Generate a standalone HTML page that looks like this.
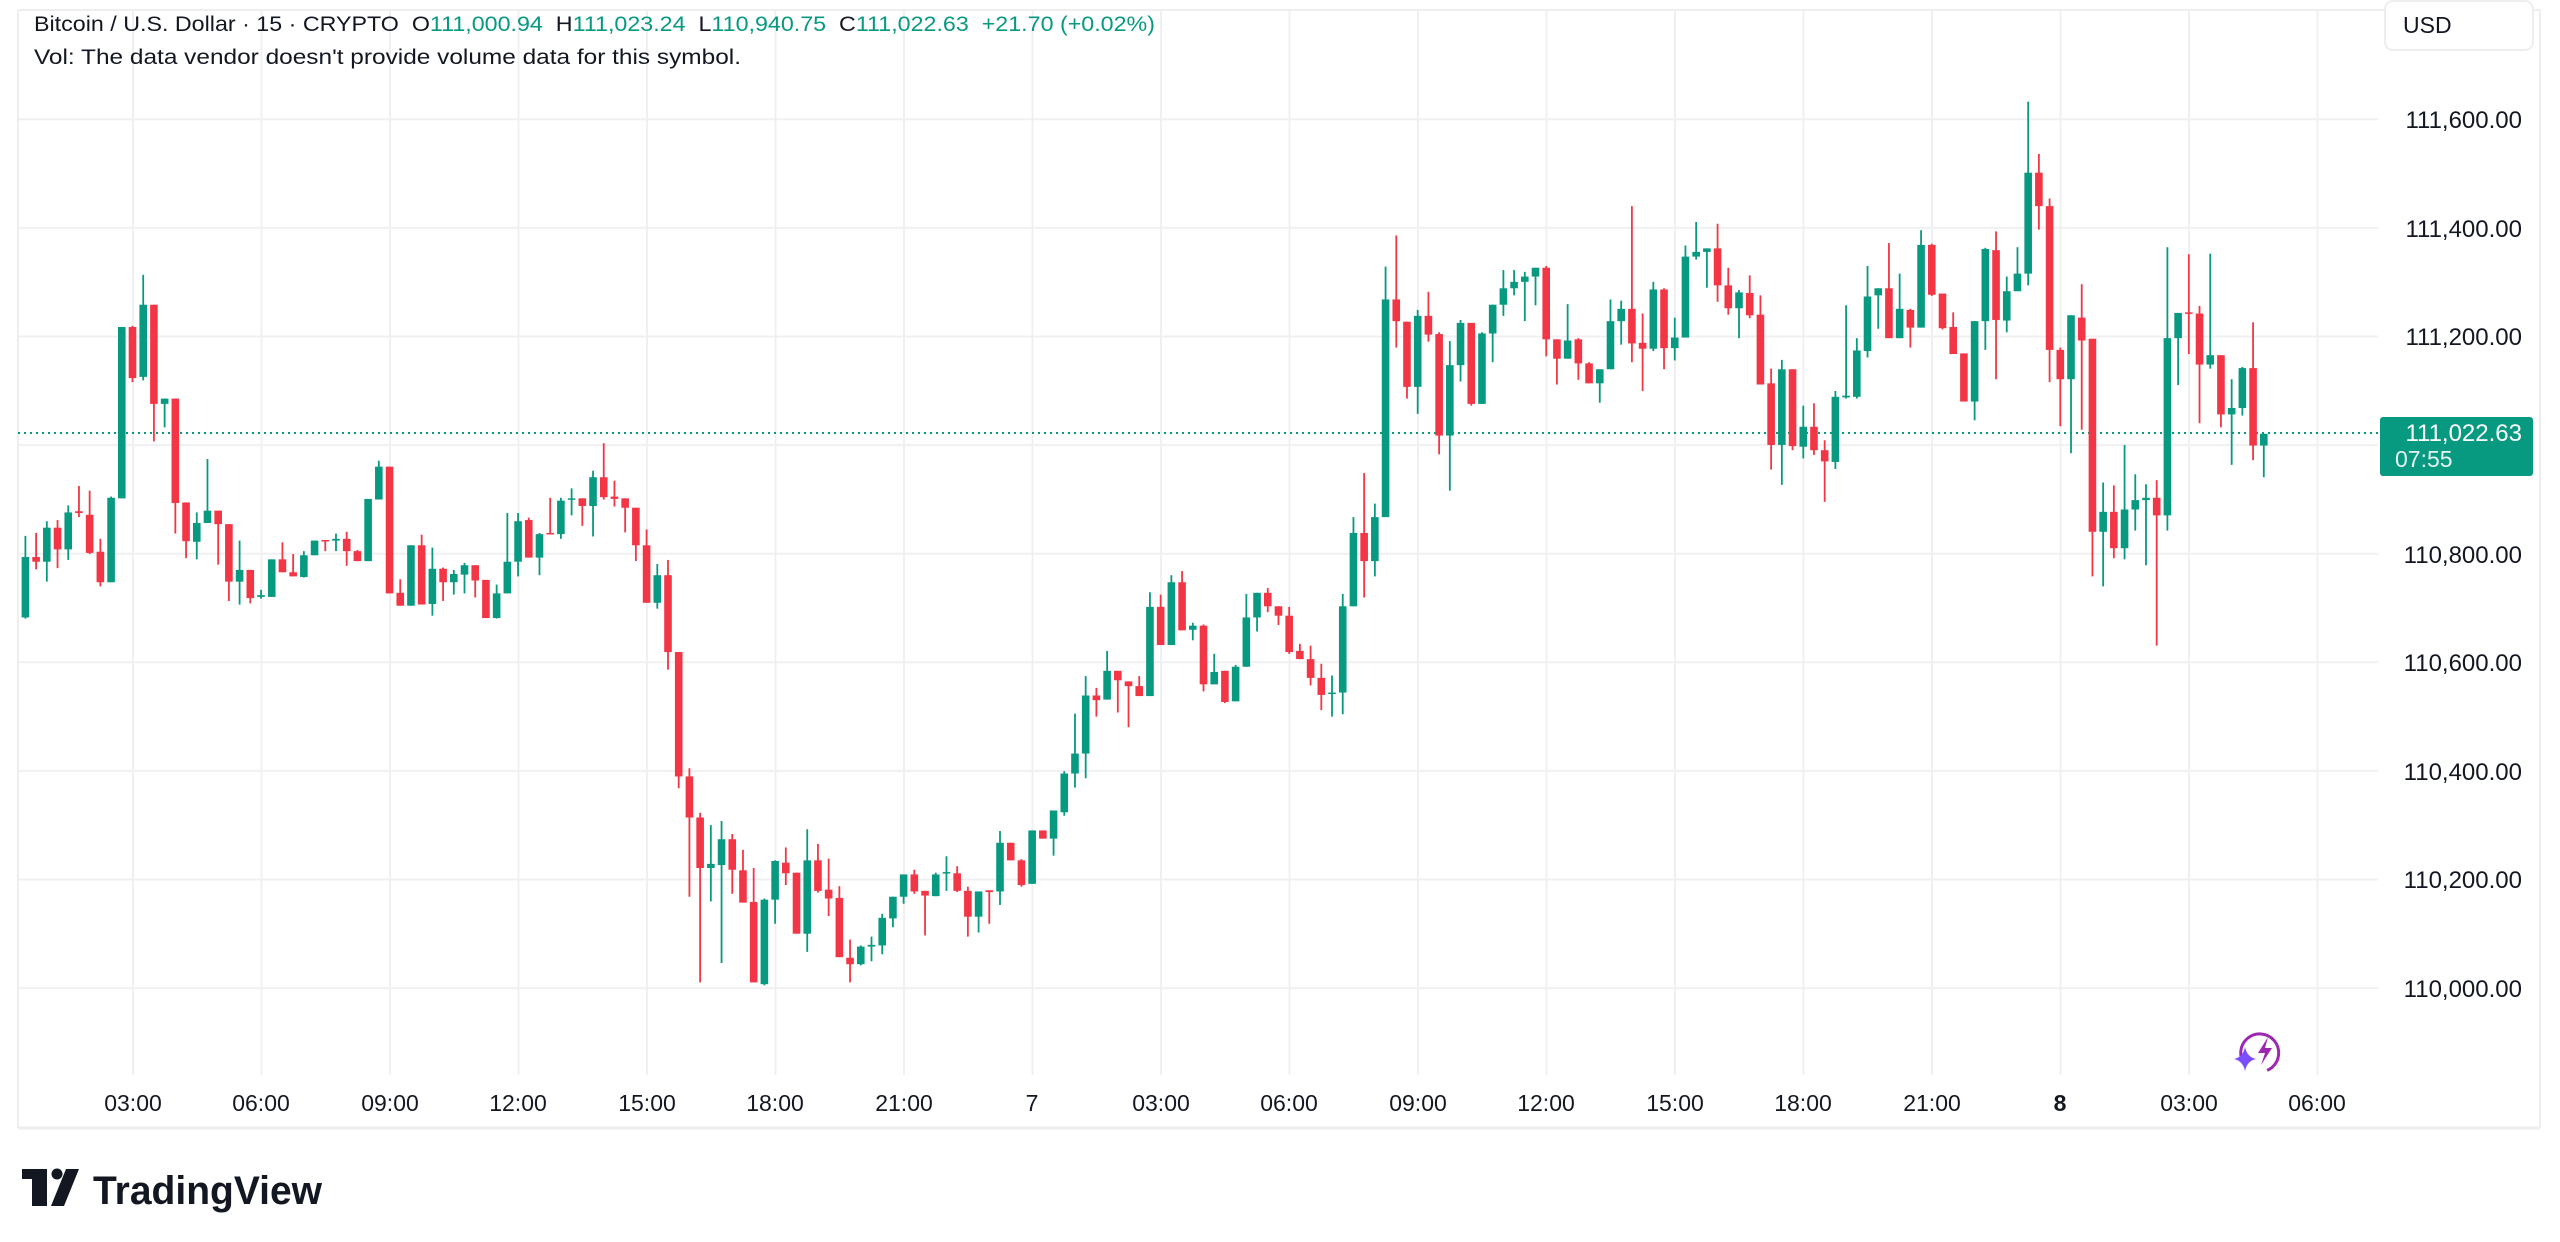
<!DOCTYPE html>
<html><head><meta charset="utf-8">
<style>
html,body{margin:0;padding:0;background:#fff;}
body{width:2560px;height:1242px;overflow:hidden;font-family:"Liberation Sans",sans-serif;}
svg{display:block}
</style></head>
<body>
<svg id="c" width="2560" height="1242" viewBox="0 0 2560 1242" xmlns="http://www.w3.org/2000/svg" font-family="Liberation Sans, sans-serif">
<rect width="2560" height="1242" fill="#fff"/>
<g id="grid" stroke="#f0f0f2" stroke-width="2"></g>
<!-- frame -->
<line x1="18" y1="10" x2="2540" y2="10" stroke="#eeeeee" stroke-width="2"/>
<line x1="18" y1="10" x2="18" y2="1128" stroke="#eeeeee" stroke-width="2"/>
<line x1="2540" y1="10" x2="2540" y2="1128" stroke="#eeeeee" stroke-width="2"/>
<line x1="18" y1="1128" x2="2540" y2="1128" stroke="#eeeeee" stroke-width="3"/>
<line x1="18" y1="433" x2="2378" y2="433" stroke="#089981" stroke-width="2" stroke-dasharray="2,4"/>
<g id="candles"></g>
<!-- header -->
<text x="34" y="31" font-size="21" fill="#131722" textLength="1121" lengthAdjust="spacingAndGlyphs">Bitcoin / U.S. Dollar · 15 · CRYPTO&#160; O<tspan fill="#089981">111,000.94</tspan>&#160; H<tspan fill="#089981">111,023.24</tspan>&#160; L<tspan fill="#089981">110,940.75</tspan>&#160; C<tspan fill="#089981">111,022.63</tspan>&#160; <tspan fill="#089981">+21.70 (+0.02%)</tspan></text>
<text x="34" y="64" font-size="21" fill="#131722" textLength="707" lengthAdjust="spacingAndGlyphs">Vol: The data vendor doesn't provide volume data for this symbol.</text>
<!-- USD box -->
<rect x="2385" y="1" width="148" height="49" rx="8" fill="#fff" stroke="#eeeeee" stroke-width="2"/>
<text x="2403" y="33" font-size="23" fill="#131722">USD</text>
<g id="plabels" font-size="24" fill="#131722" text-anchor="end">
<text x="2522" y="128">111,600.00</text>
<text x="2522" y="237">111,400.00</text>
<text x="2522" y="345">111,200.00</text>
<text x="2522" y="671">110,600.00</text>
<text x="2522" y="563">110,800.00</text>
<text x="2522" y="780">110,400.00</text>
<text x="2522" y="888">110,200.00</text>
<text x="2522" y="997">110,000.00</text>
</g>
<rect x="2380" y="417" width="153" height="59" rx="3" fill="#089981"/>
<text x="2522" y="441" font-size="24" fill="#fff" text-anchor="end">111,022.63</text>
<text x="2395" y="467" font-size="23" fill="#e6f5f2">07:55</text>
<g font-size="23" fill="#131722" text-anchor="middle">
<text x="133" y="1111">03:00</text>
<text x="261" y="1111">06:00</text>
<text x="390" y="1111">09:00</text>
<text x="518" y="1111">12:00</text>
<text x="647" y="1111">15:00</text>
<text x="775" y="1111">18:00</text>
<text x="904" y="1111">21:00</text>
<text x="1032" y="1111">7</text>
<text x="1161" y="1111">03:00</text>
<text x="1289" y="1111">06:00</text>
<text x="1418" y="1111">09:00</text>
<text x="1546" y="1111">12:00</text>
<text x="1675" y="1111">15:00</text>
<text x="1803" y="1111">18:00</text>
<text x="1932" y="1111">21:00</text>
<text x="2060" y="1111" font-weight="bold">8</text>
<text x="2189" y="1111">03:00</text>
<text x="2317" y="1111">06:00</text>
</g>
<!-- lightning icon -->
<g transform="translate(2262,1051)">
<circle cx="3" cy="0" r="19" fill="none" stroke="#9c27b0" stroke-width="3" stroke-dasharray="95,25" transform="rotate(140)"/>
<path d="M6,-14 L-4,2 L3,2 L-1,14 L10,-3 L3,-3 Z" fill="#9c27b0"/>
<path d="M-17,-4 Q-15,6 -6,8 Q-15,10 -17,20 Q-19,10 -28,8 Q-19,6 -17,-4 Z" fill="#7c4dff"/>
</g>
<!-- TradingView logo -->
<g fill="#131722">
<rect x="22" y="1169" width="25" height="10"/>
<rect x="32" y="1169" width="15" height="37"/>
<circle cx="57" cy="1174" r="5.5"/>
<path d="M66,1169 L79,1169 L64,1206 L51,1206 Z"/>
<text x="93" y="1204" font-size="40" font-weight="bold" textLength="229" lengthAdjust="spacingAndGlyphs">TradingView</text>
</g>
</svg>
<script>
(function(){
var NS="http://www.w3.org/2000/svg";
var grid=document.getElementById("grid");
function ln(x1,y1,x2,y2){var l=document.createElementNS(NS,"line");l.setAttribute("x1",x1);l.setAttribute("y1",y1);l.setAttribute("x2",x2);l.setAttribute("y2",y2);grid.appendChild(l);}
for(var k=0;k<9;k++){var y=119.3+k*108.6;ln(18,y,2378,y);}
for(var k=0;k<18;k++){var x=133+k*128.5;ln(x,10,x,1075);}
var d=[
[1,813,916,777,918],[0,813,821,772,834],[1,763,821,752,855],[0,763,800,750,832],[1,737,800,725,818],[0,735,738,692,745],[0,741,806,700,808],[0,804,856,782,863],[1,712,856,710,856],[1,421,713,421,713],
[0,421,508,419,515],[1,383,506,332,512],[0,383,552,383,616],[1,543,552,543,592],[0,543,721,543,773],[0,720,786,720,815],[1,755,787,737,817],[1,734,755,646,755],[0,734,757,734,826],[0,757,855,757,888],
[1,835,855,785,894],[0,835,883,835,892],[1,878,881,869,884],[1,817,881,817,881],[0,817,839,788,839],[0,839,846,808,846],[1,810,847,803,848],[1,785,810,785,810],[0,784,786,784,803],[1,782,785,773,803],
[0,782,803,770,828],[0,803,820,801,820],[1,714,820,714,820],[1,659,715,649,715],[0,659,875,659,875],[0,874,896,851,896],[1,793,896,793,896],[0,793,894,775,894],[1,833,893,797,913],[0,833,856,831,888],
[1,842,856,835,877],[1,827,843,823,875],[0,827,853,827,882],[0,852,917,852,917],[1,875,917,860,918],[1,821,875,738,875],[1,752,821,738,846],[0,750,814,746,814],[1,774,814,772,844],[0,772,774,712,774],
[1,717,774,712,782],[1,713,714,696,742],[0,713,726,713,760],[1,677,726,666,778],[0,677,711,619,715],[0,710,714,683,727],[0,713,729,713,771],[0,729,793,729,820],[0,793,891,766,891],[1,844,891,825,901],
[0,844,975,818,1005],[0,975,1187,975,1207],[0,1187,1257,1173,1392],[0,1257,1343,1249,1538],[1,1336,1343,1270,1400],[1,1294,1338,1263,1505],[0,1294,1346,1285,1387],[0,1347,1402,1312,1402],[0,1401,1538,1343,1538],[1,1397,1541,1395,1543],
[1,1331,1397,1330,1438],[0,1334,1352,1308,1372],[0,1351,1455,1351,1455],[1,1330,1455,1277,1486],[0,1330,1382,1302,1385],[0,1380,1395,1327,1425],[0,1394,1495,1374,1495],[0,1496,1507,1465,1538],[1,1477,1507,1475,1509],[1,1474,1477,1460,1502],
[1,1428,1475,1421,1490],[1,1392,1429,1392,1444],[1,1354,1392,1354,1404],[0,1354,1383,1346,1387],[0,1382,1390,1382,1458],[1,1354,1391,1351,1391],[1,1350,1352,1323,1382],[0,1352,1382,1340,1384],[0,1382,1426,1375,1460],[1,1383,1426,1383,1453],
[0,1381,1384,1381,1438],[1,1300,1383,1280,1406],[0,1300,1330,1300,1330],[0,1330,1372,1328,1375],[1,1279,1370,1279,1370],[0,1279,1293,1279,1293],[1,1245,1293,1245,1322],[1,1182,1248,1178,1254],[1,1148,1182,1080,1206],[1,1049,1148,1016,1190],
[0,1049,1057,1036,1085],[1,1007,1056,973,1056],[0,1007,1023,1007,1078],[0,1025,1033,1025,1103],[0,1033,1050,1016,1050],[1,898,1050,873,1050],[0,898,963,877,963],[1,856,963,844,963],[0,856,938,837,938],[1,930,937,925,955],
[0,930,1030,928,1042],[1,1009,1030,978,1030],[0,1007,1060,1007,1062],[1,1000,1059,997,1059],[1,916,1000,876,1000],[1,874,916,874,940],[0,874,897,866,907],[0,897,913,897,929],[0,913,975,898,978],[0,973,987,961,987],
[0,987,1019,964,1032],[0,1019,1048,995,1074],[1,1044,1046,1015,1085],[1,897,1044,876,1081],[1,772,897,745,897],[0,772,820,670,882],[1,745,820,722,846],[1,374,745,318,745],[0,374,411,265,456],[0,412,523,412,543],
[1,402,523,392,569],[0,402,434,361,446],[0,433,606,430,638],[1,486,606,445,700],[1,414,486,409,514],[0,414,552,414,555],[1,432,552,430,552],[1,383,432,383,481],[1,355,383,324,402],[1,344,355,324,367],
[1,335,344,327,411],[1,320,335,320,384],[0,320,442,317,471],[0,442,475,442,519],[1,444,475,382,475],[0,442,483,440,511],[0,483,517,481,517],[1,493,517,493,550],[1,411,493,374,493],[1,390,411,376,451],
[0,390,449,215,481],[0,448,458,398,530],[1,357,458,344,462],[0,357,457,355,493],[1,439,457,405,478],[1,301,439,282,439],[1,293,301,242,306],[1,287,293,287,354],[0,287,350,245,378],[0,350,389,320,400],
[1,362,389,358,440],[0,363,401,333,406],[0,400,519,367,519],[0,517,622,492,664],[1,493,622,477,690],[0,493,624,493,631],[1,591,625,555,645],[0,591,631,551,639],[0,631,650,614,719],[1,540,651,530,663],
[1,538,541,384,543],[1,461,540,440,543],[1,369,462,317,473],[1,355,367,355,424],[0,355,440,278,440],[1,390,440,330,440],[0,392,422,390,456],[1,281,422,256,422],[0,281,366,279,368],[0,364,423,364,425],
[0,421,467,396,467],[0,466,548,466,548],[1,411,548,411,580],[1,288,411,286,460],[0,290,409,258,510],[1,360,410,335,430],[1,330,360,285,360],[1,158,330,37,350],[0,158,215,126,255],[0,215,460,202,515],
[0,460,510,456,590],[1,401,510,401,636],[0,405,444,348,596],[0,441,770,441,846],[1,736,770,686,863],[0,736,798,691,815],[1,732,798,622,817],[1,716,732,672,768],[1,712,716,689,827],[0,712,742,682,964],
[1,440,742,285,768],[1,397,440,397,520],[0,396,398,297,467],[0,398,485,385,585],[1,469,485,296,492],[0,469,570,469,592],[1,559,570,510,656],[1,491,559,489,572],[0,491,623,413,648],[1,603,623,603,677]
];
var g=document.getElementById("candles");
var s=920/1568;
function Y(z){return 80+z*s;}
for(var i=0;i<d.length;i++){
 var c=d[i],x=25.4+i*10.71,col=c[0]?"#089981":"#F23645";
 var wt=Y(c[3]),wb=Y(c[4]),bt=Y(c[1]),bb=Y(c[2]);
 var w=document.createElementNS(NS,"rect");
 w.setAttribute("x",(x-0.9).toFixed(2));w.setAttribute("y",wt.toFixed(2));w.setAttribute("width","1.8");w.setAttribute("height",Math.max(1,wb-wt).toFixed(2));w.setAttribute("fill",col);g.appendChild(w);
 var b=document.createElementNS(NS,"rect");
 b.setAttribute("x",(x-3.8).toFixed(2));b.setAttribute("y",bt.toFixed(2));b.setAttribute("width","7.6");b.setAttribute("height",Math.max(1.5,bb-bt).toFixed(2));b.setAttribute("fill",col);g.appendChild(b);
}
})();
</script>
</body></html>
